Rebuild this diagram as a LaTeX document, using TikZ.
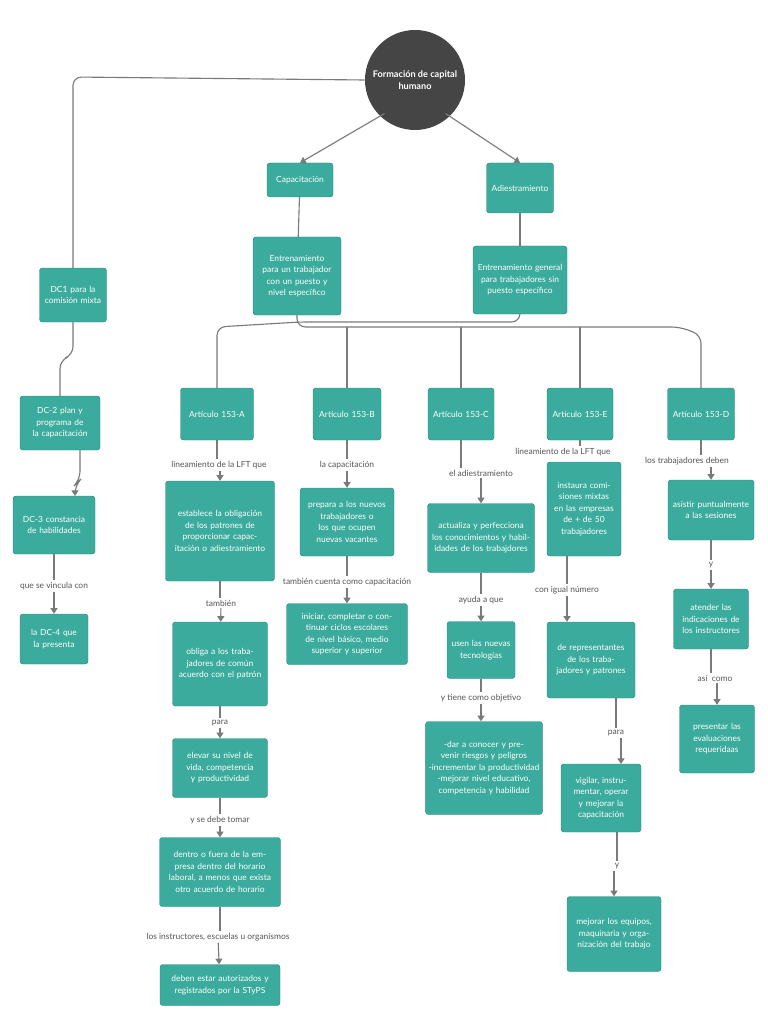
\documentclass[tikz,border=0pt]{standalone}
\usepackage{fontspec}
\setmainfont{Lato}
\usetikzlibrary{arrows.meta}
\definecolor{teal1}{HTML}{3AAB9C}
\definecolor{circ}{HTML}{454545}
\definecolor{ln}{HTML}{7A7A7A}
\definecolor{lbl}{HTML}{555555}
\tikzset{
 box/.style={fill=teal1,draw=teal1!80!black,line width=0.3pt,rounded corners=2pt,text=white,align=center,font=\fontsize{6}{8.2}\selectfont,inner sep=1pt},
 lab/.style={text=lbl,font=\fontsize{6}{7}\selectfont,inner sep=1pt,fill=white},
 con/.style={draw=ln,line width=0.8pt},
 arr/.style={con,-{Triangle[length=4pt,width=5pt]}}
}
\newcommand\bx[6]{\node[box,minimum width=#4*0.025cm,minimum height=#5*0.025cm,text width=#4*0.025cm-6pt] (#1) at (#2,#3) {#6};}
\newcommand\lb[4]{\node[lab] (#1) at (#2,#3) {#4};}
\begin{document}
\begin{tikzpicture}[x=0.025cm,y=-0.025cm]
\useasboundingbox (0,0) rectangle (768,1024);
\node[circle,fill=circ,minimum size=100*0.025cm,text=white,align=center,font=\fontsize{6.5}{8.5}\selectfont\bfseries] (root) at (415,80) {Formación de capital\\humano};
\bx{cap}{300}{180}{66}{34}{Capacitación}
\bx{adi}{520}{188}{67}{50}{Adiestramiento}
\bx{ec}{297}{276}{88}{78}{Entrenamiento para un trabajador con un puesto y nivel específico}
\bx{ea}{520}{280}{94}{68}{Entrenamiento general para trabajadores sin puesto específico}
\bx{dc1}{73}{295}{67}{54}{DC1 para la comisión mixta}
\bx{dc2}{60}{423}{80}{54}{DC-2 plan y programa de la capacitación}
\bx{dc3}{54}{525}{82}{58}{DC-3 constancia de habilidades}
\lb{l0}{54}{586}{que se vincula con}
\bx{dc4}{54}{639}{68}{50}{la DC-4 que la presenta}
\bx{a}{217}{414}{73}{52}{Artículo 153-A}
\bx{b}{347}{414}{68}{52}{Artículo 153-B}
\bx{c}{461}{414}{66}{52}{Artículo 153-C}
\bx{e}{580}{414}{66}{52}{Artículo 153-E}
\bx{d}{701}{414}{67}{52}{Artículo 153-D}
\lb{la1}{219}{465}{lineamiento de la LFT que}
\bx{a1}{220}{531}{109}{100}{establece la obligación de los patrones de proporcionar capacitación o adiestramiento}
\lb{la2}{221}{603}{también}
\bx{a2}{220}{664}{95}{84}{obliga a los trabajadores de común acuerdo con el patrón}
\lb{la3}{220}{723}{para}
\bx{a3}{220}{768}{95}{59}{elevar su nivel de vida, competencia y productividad}
\lb{la4}{220}{820}{y se debe tomar}
\bx{a4}{220}{872}{121}{69}{dentro o fuera de la empresa dentro del horario laboral, a menos que exista otro acuerdo de horario}
\lb{la5}{218}{937}{los instructores, escuelas u organismos}
\bx{a5}{220}{985}{120}{41}{deben estar autorizados y registrados por la STyPS}
\lb{lb1}{347}{465}{la capacitación}
\bx{b1}{347}{522}{94}{68}{prepara a los nuevos trabajadores o los que ocupen nuevas vacantes}
\lb{lb2}{347}{582}{también cuenta como capacitación}
\bx{b2}{347}{634}{121}{61}{iniciar, completar o continuar ciclos escolares de nivel básico, medio superior y superior}
\lb{lc1}{481}{473}{el adiestramiento}
\bx{c1}{481}{538}{107}{69}{actualiza y perfecciona los conocimientos y habilidades de los trabajdores}
\lb{lc2}{481}{600}{ayuda a que}
\bx{c2}{481}{650}{68}{57}{usen las nuevas tecnologías}
\lb{lc3}{481}{698}{y tiene como objetivo}
\node[box,minimum width=114*0.025cm,minimum height=93*0.025cm,text width=114*0.025cm] (c3) at (484,768) {-dar a conocer y prevenir riesgos y peligros\\-incrementar la productividad\\-mejorar nivel educativo, competencia y habilidad};
\lb{le1}{563}{452}{lineamiento de la LFT que}
\bx{e1}{584}{509}{74}{94}{instaura comisiones mixtas en las empresas de + de 50 trabajadores}
\lb{le2}{567}{590}{con igual número}
\bx{e2}{591}{660}{88}{76}{de representantes de los trabajadores y patrones}
\lb{le3}{616}{733}{para}
\bx{e3}{601}{798}{80}{68}{vigilar, instrumentar, operar y mejorar la capacitación}
\lb{le4}{617}{866}{y}
\bx{e4}{614}{934}{94}{75}{mejorar los equipos, maquinaria y organización del trabajo}
\lb{ld1}{687}{461}{los trabajadores deben}
\bx{d1}{711}{510}{86}{60}{asistir puntualmente a las sesiones}
\lb{ld2}{711}{565}{y}
\bx{d2}{711}{619}{75}{60}{atender las indicaciones de los instructores}
\lb{ld3}{715}{678}{así\ \ como}
\bx{d3}{717}{739}{75}{68}{presentar las evaluaciones requeridaas}
% connectors
\draw[con,rounded corners=6pt] (root.west) -- (73,77) -- (dc1.north);
\draw[arr] (root.south west) ++(5,-2) -- (cap.north);
\draw[arr] (root.south east) ++(-5,-2) -- (adi.north);
\draw[con] (cap) -- (ec);
\draw[con] (adi) -- (ea);
\draw[con,rounded corners=6pt] (ec.south) -- (297,327) -- (680,327) -- (701,335) -- (d.north);
\draw[con,rounded corners=6pt] (ea.south) -- (520,322) -- (300,322) -- (217,327) -- (a.north);
\draw[con] (347,327) -- (b.north);
\draw[con] (461,327) -- (c.north);
\draw[con] (580,327) -- (e.north);
\draw[con,rounded corners=6pt] (dc1.south) -- (73,355) -- (60,360) -- (dc2.north);
\draw[arr,rounded corners=6pt] (80,450) -- (80,480) -- (75,485) -- (75,496);
\draw[con] (dc3) -- (l0); \draw[arr] (l0) -- (dc4);
\foreach \p/\l/\n in {a/la1/a1,a1/la2/a2,a2/la3/a3,a3/la4/a4,a4/la5/a5,b/lb1/b1,b1/lb2/b2,c/lc1/c1,c1/lc2/c2,c2/lc3/c3,d/ld1/d1,d1/ld2/d2,d2/ld3/d3}{
 \draw[con] (\p.south) -- (\l.north -| \p.south);
}
\draw[arr] (la1.south -| a1.north) -- (a1.north);
\draw[arr] (la2) -- (a2);
\draw[arr] (la3) -- (a3);
\draw[arr] (la4) -- (a4);
\draw[arr] (la5) -- (a5);
\draw[arr] (lb1) -- (b1);
\draw[arr] (lb2) -- (b2);
\draw[arr] (lc1) -- (c1);
\draw[arr] (lc2) -- (c2);
\draw[arr] (lc3) -- (c3.north -| lc3);
\draw[arr] (ld1.south -| d1) -- (d1);
\draw[arr] (ld2) -- (d2);
\draw[arr] (ld3.south -| d3) -- (d3);
\draw[con] (e.south) -- (e.south |- le1.north);
\draw[con] (e1.south -| le2) -- (le2);
\draw[arr] (le2) -- (le2 |- e2.north);
\draw[con] (le3 |- e2.south) -- (le3);
\draw[arr] (le3.south -| 621,0) -- (621,764);
\draw[con] (le4 |- e3.south) -- (le4);
\draw[arr] (le4.south -| 614,0) -- (e4.north);
\end{tikzpicture}
\end{document}
